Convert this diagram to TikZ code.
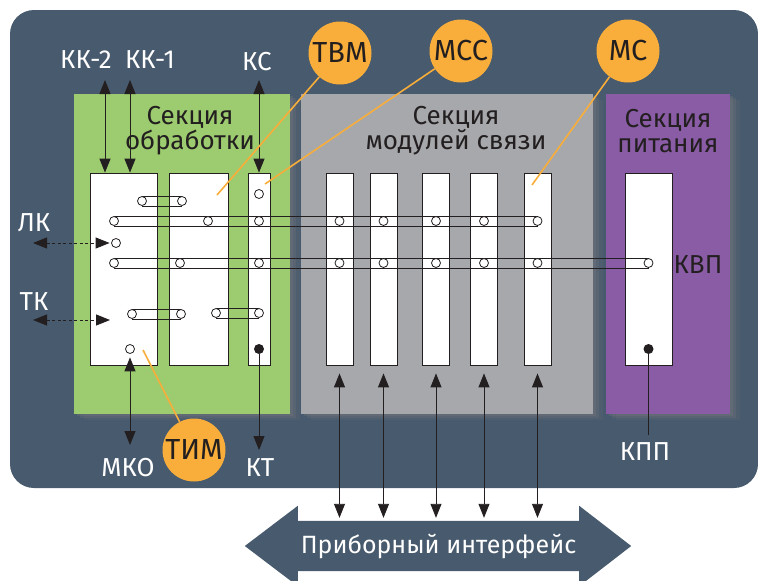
\documentclass[tikz,border=0pt]{standalone}
\usepackage{fontspec}
\setmainfont{Fira Sans}
\usetikzlibrary{arrows.meta,shadows}

\definecolor{slate}{HTML}{485A6D}
\definecolor{procgreen}{HTML}{9DCB6F}
\definecolor{linkgray}{HTML}{A7A8AB}
\definecolor{powerviolet}{HTML}{8A5CA6}
\definecolor{callorange}{HTML}{F9AE3B}
\definecolor{ink}{HTML}{231F20}

\pgfdeclarelayer{base}
\pgfdeclarelayer{sec}
\pgfdeclarelayer{mods}
\pgfdeclarelayer{bus}
\pgfsetlayers{base,sec,mods,bus,main}

\tikzset{
  section/.style={fill=#1, inner sep=0pt,
    drop shadow={shadow xshift=3pt, shadow yshift=-2pt, opacity=.25},
    drop shadow={shadow xshift=6pt, shadow yshift=-4pt, opacity=.2},
    drop shadow={shadow xshift=10pt, shadow yshift=-6pt, opacity=.12}},
  modbox/.style={draw=ink, fill=white, line width=.8pt, inner sep=0pt, minimum height=192pt},
  pin/.style={circle, draw=ink, fill=white, line width=.8pt, minimum size=9pt, inner sep=0pt},
  dot/.style={circle, fill=ink, minimum size=10pt, inner sep=0pt},
  callout/.style={circle, fill=callorange, minimum size=63pt, inner sep=0pt,
    text=ink, font=\fontsize{29}{29}\selectfont},
  lead/.style={draw=callorange, line width=1.6pt},
  sig/.style={draw=ink, line width=.9pt, >={Triangle[length=14pt,width=11pt]}},
  dashsig/.style={sig, dash pattern=on 3pt off 2.5pt},
  title/.style={text=ink, align=center, font=\fontsize{26}{25}\selectfont},
  outlabel/.style={text=white, font=\fontsize{26}{26}\selectfont},
  bus/.style={draw=ink, line width=.8pt},
}

\begin{document}
\begin{tikzpicture}[x=1pt,y=-1pt]
  \useasboundingbox (0,0) rectangle (758,581);

  % frame
  \begin{pgfonlayer}{base}
    \fill[slate, rounded corners=24pt] (10,10) rectangle (758,488);
  \end{pgfonlayer}

  % sections
  \begin{pgfonlayer}{sec}
    \node[section=procgreen, minimum width=216pt, minimum height=320pt] (proc) at (182,254) {};
    \node[section=linkgray, minimum width=292pt, minimum height=320pt] (link) at (447,254) {};
    \node[section=powerviolet, minimum width=124pt, minimum height=320pt] (power) at (668,254) {};
  \end{pgfonlayer}
  \node[title] (proctitle) at (190,131) {Секция\\обработки};
  \node[title] (linktitle) at (456,131) {Секция\\модулей связи};
  \node[title] (powertitle) at (668,131) {Секция\\питания};

  % modules
  \begin{pgfonlayer}{mods}
    \node[modbox, minimum width=67pt] (m1) at (123.5,269) {};
    \node[modbox, minimum width=59pt] (m2) at (198.5,269) {};
    \node[modbox, minimum width=22pt] (m3) at (259,269) {};
    \foreach \n/\x in {1/339.5,2/383.5,3/436,4/484,5/537.5}
      \node[modbox, minimum width=27pt] (g\n) at (\x,269) {};
    \node[modbox, minimum width=47pt] (pw) at (648.5,269) {};
  \end{pgfonlayer}

  % buses
  \coordinate (busA) at (0,221);
  \coordinate (busB) at (0,263);
  \foreach \n/\x in {1/114,2/208,3/259}
    \node[pin] (a\n) at (\x,221) {};
  \foreach \n/\x in {1/114,2/180,3/259}
    \node[pin] (b\n) at (\x,263) {};
  \foreach \g [count=\k from 4] in {g1,g2,g3,g4,g5} {
    \node[pin] (a\k) at (\g |- busA) {};
    \node[pin] (b\k) at (\g |- busB) {};
  }
  \node[pin] (b9) at (pw |- busB) {};
  \node[pin] (s1l) at (142,201) {};
  \node[pin] (s1r) at (182,201) {};
  \node[pin] (s2l) at (132,314) {};
  \node[pin] (s2r) at (181,314) {};
  \node[pin] (s3l) at (216,313) {};
  \node[pin] (s3r) at (259,313) {};
  \node[pin] (lk) at (116,243) {};
  \node[pin] (ks) at (259,194) {};
  \node[pin] (mko) at (130,349) {};
  \node[dot] (kt) at (259,349) {};
  \node[dot] (kpp) at (648.5,349) {};

  \begin{pgfonlayer}{bus}
    \foreach \l/\r in {a1/a8,b1/b9,s1l/s1r,s2l/s2r,s3l/s3r}
      \draw[bus] (\l.north) -- (\r.north) (\l.south) -- (\r.south);
  \end{pgfonlayer}

  % outside labels
  \node[outlabel] (kk2) at (86,60) {КК-2};
  \node[outlabel] (kk1) at (150,60) {КК-1};
  \node[outlabel] (kslabel) at (257,62) {КС};
  \node[outlabel] (lklabel) at (34,223) {ЛК};
  \node[outlabel] (tklabel) at (34,302) {ТК};
  \node[outlabel] (mkolabel) at (128,468) {МКО};
  \node[outlabel] (ktlabel) at (260,468) {КТ};
  \node[outlabel] (kpplabel) at (645,452) {КПП};
  \node[title] (kvp) at (698,265) {КВП};

  % signal arrows
  \coordinate (kk2top) at (105,80);
  \coordinate (kk1top) at (130,80);
  \coordinate (kstop) at (259,80);
  \draw[sig,<->] (kk2top) -- (kk2top |- m1.north);
  \draw[sig,<->] (kk1top) -- (kk1top |- m1.north);
  \draw[sig,<->] (kstop) -- (kstop |- m3.north);
  \coordinate (lkend) at (33,243);
  \coordinate (tkend) at (33,320);
  \coordinate (tkin) at (110,320);
  \draw[dashsig,<->,shorten >=1.5pt] (lkend) -- (lk.west);
  \draw[dashsig,<->] (tkend) -- (tkin);
  \coordinate (mkoend) at (130,445);
  \coordinate (ktend) at (259,450);
  \coordinate (kppend) at (648.5,435);
  \draw[sig,<->,shorten >=3.5pt] (mkoend) -- (mko);
  \draw[sig,->] (kt) -- (ktend);
  \draw[sig] (kpp) -- (kppend);

  % device interface
  \node[text=white, font=\fontsize{25}{25}\selectfont, minimum width=281pt,
    minimum height=50pt, inner sep=0pt] (iface) at (438.5,546) {Приборный интерфейс};
  \begin{pgfonlayer}{sec}
    \fill[slate] ([xshift=-53pt]iface.west) -- ([yshift=15pt]iface.north west)
      -- (iface.north west) -- (iface.north east) -- ([yshift=15pt]iface.north east)
      -- ([xshift=52pt]iface.east) -- ([yshift=-15pt]iface.south east)
      -- (iface.south east) -- (iface.south west) -- ([yshift=-15pt]iface.south west) -- cycle;
  \end{pgfonlayer}
  \foreach \g in {g1,g2,g3,g4,g5}
    \draw[sig,<->,shorten <=8pt,shorten >=3pt] (\g.south) -- (\g.south |- iface.north);

  % callouts
  \node[callout] (tvm) at (340,53) {ТВМ};
  \node[callout] (mss) at (461,51) {МСС};
  \node[callout] (ms) at (628,51) {МС};
  \node[callout] (tim) at (194,450) {ТИМ};
  \coordinate (tvmpt) at (217,195);
  \coordinate (msspt) at (265,184);
  \coordinate (mspt) at (532,185);
  \coordinate (timpt) at (143,350);
  \draw[lead] (tvm) -- (tvmpt);
  \draw[lead] (mss) -- (msspt);
  \draw[lead] (ms) -- (mspt);
  \draw[lead] (tim) -- (timpt);
\end{tikzpicture}
\end{document}
